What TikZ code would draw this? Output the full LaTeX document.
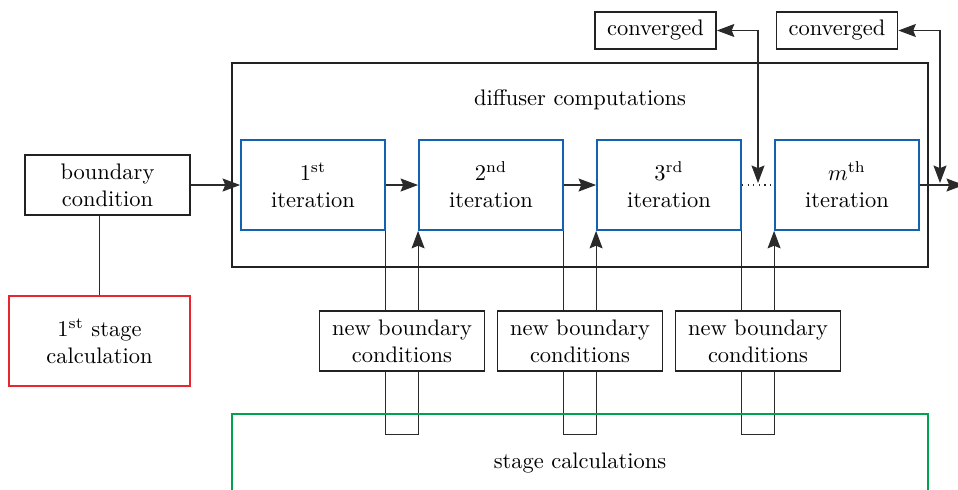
\documentclass[tikz,border=0pt]{standalone}
\usepackage{tikz}
\usepackage{amsmath}
\usetikzlibrary{
  positioning,
  arrows.meta,
  backgrounds,
  calc,
}
\definecolor{border}{HTML}{222222}
\definecolor{iterBlue}{HTML}{1262B0}
\definecolor{stageRed}{HTML}{E8262D}
\definecolor{stageGreen}{HTML}{00A14F}
\definecolor{lineCol}{HTML}{2A2A2A}
\tikzset{
  plainbox/.style={
    rectangle, draw=border, fill=white, align=center,
    line width=0.8pt, inner sep=2pt, font=\normalsize,
  },
  bcbox/.style={plainbox, minimum width=73.4pt, minimum height=26.7pt},
  iterbox/.style={plainbox, draw=iterBlue, minimum width=64.1pt, minimum height=40pt},
  convbox/.style={plainbox, minimum width=53.8pt, minimum height=16.5pt},
  redbox/.style={plainbox, draw=stageRed, minimum width=80.5pt, minimum height=40pt},
  frame/.style={draw=border, line width=0.8pt},
  arrow/.style={-{Stealth[length=7.8pt,width=5.8pt,inset=1.2pt]}, lineCol, line width=0.5pt},
  darrow/.style={{Stealth[length=7.8pt,width=5.8pt,inset=1.2pt]}-{Stealth[length=7.8pt,width=5.8pt,inset=1.2pt]}, lineCol, line width=0.5pt},
  link/.style={lineCol, line width=0.5pt},
}

\begin{document}
\begin{tikzpicture}[x=0.445pt, y=-0.445pt]

  \useasboundingbox (0,0) rectangle (958,489);

  % Frames
  \draw[frame] (232,63) rectangle (928,267);
  \node (diff) at (580,100) {diffuser computations};
  \draw[frame, draw=stageGreen] (232,414) rectangle (928,620);
  \node (stage) at (580,463) {stage calculations};

  % Inputs
  \node[bcbox] (bc) at (107.5,185) {boundary\\condition};
  \node[redbox] (first) at (99.5,341) {1\textsuperscript{st} stage\\calculation};

  % Iterations
  \node[iterbox] (it1) at (313,185) {1\textsuperscript{st}\\iteration};
  \node[iterbox] (it2) at (491,185) {2\textsuperscript{nd}\\iteration};
  \node[iterbox] (it3) at (669,185) {3\textsuperscript{rd}\\iteration};
  \node[iterbox] (itm) at (847,185) {$m^{\text{th}}$\\iteration};

  % New boundary conditions
  \foreach \x/\n in {402/1, 580/2, 758/3} {
    \node[bcbox] (nbc\n) at (\x,341) {new boundary\\conditions};
  }

  % Convergence checks
  \node[convbox] (conv1) at (655.5,30.5) {converged};
  \node[convbox] (conv2) at (837,30.5) {converged};
  \coordinate (chk1) at (758,183);
  \coordinate (chk2) at (940,183);
  \coordinate (out) at (964,185);

  \draw[arrow] (bc) -- (it1);
  \draw[link] (first.north) -- (first.north |- bc.south);
  \draw[arrow] (it1) -- (it2);
  \draw[arrow] (it2) -- (it3);
  \draw[link, dotted] (it3) -- (itm);
  \draw[arrow] (itm) -- (out);
  \draw[darrow] (conv1.east) -| (chk1);
  \draw[darrow] (conv2.east) -| (chk2);

  % Feedback through the stage calculations
  \begin{scope}[on background layer]
    \foreach \a/\b in {it1/it2, it2/it3, it3/itm} {
      \draw[arrow] (\a.south east) -- ++(0,204) -| (\b.south west);
    }
  \end{scope}

\end{tikzpicture}
\end{document}
